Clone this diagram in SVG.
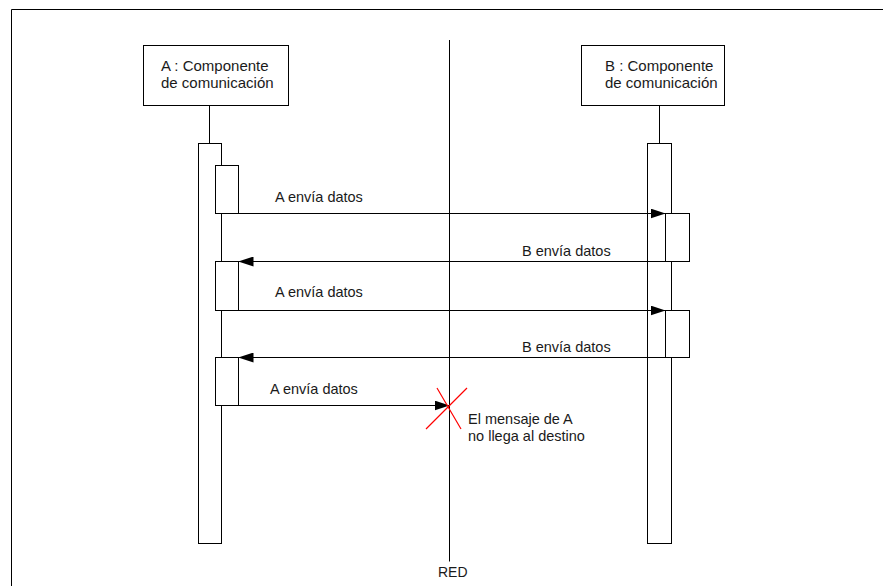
<svg xmlns="http://www.w3.org/2000/svg" width="883" height="586" viewBox="0 0 883 586">
  <defs>
    <marker id="arrow" markerUnits="userSpaceOnUse" markerWidth="15" markerHeight="10" refX="15" refY="5" orient="auto">
      <path d="M0,0 L15,5 L0,10 Z" fill="#000"/>
    </marker>
    <style>
      .box { fill: #fff; stroke: #000; stroke-width: 1; }
      .line { fill: none; stroke: #000; stroke-width: 1; }
      .msg { fill: none; stroke: #000; stroke-width: 1; marker-end: url(#arrow); }
      .cross { fill: none; stroke: #ff0000; stroke-width: 1.2; }
      text { font-family: "Liberation Sans", Arial, sans-serif; font-size: 14.5px; fill: #1a1a1a; }
      .title { font-size: 15px; }
    </style>
  </defs>

  <rect x="0" y="0" width="883" height="586" fill="#fff"/>

  <!-- frame -->
  <path class="line" d="M11.5,586 V9.5 H883"/>

  <!-- network line -->
  <g id="red">
    <path class="line" d="M449.5,40 V561.5"/>
    <text x="438" y="577" style="font-size:14px">RED</text>
  </g>

  <!-- component A -->
  <g id="componente-a">
    <rect class="box" x="143.5" y="45.5" width="145" height="60"/>
    <text class="title" x="161" y="71">A : Componente</text>
    <text class="title" x="161" y="88">de comunicación</text>
    <path class="line" d="M209.5,105.5 V143.5"/>
    <rect class="box" x="198.5" y="143.5" width="23" height="400"/>
    <rect class="box" x="215.5" y="165.5" width="23" height="48"/>
    <rect class="box" x="215.5" y="261.5" width="23" height="49"/>
    <rect class="box" x="215.5" y="357.5" width="23" height="48"/>
  </g>

  <!-- component B -->
  <g id="componente-b">
    <rect class="box" x="581.5" y="45.5" width="143" height="60"/>
    <text class="title" x="605" y="71">B : Componente</text>
    <text class="title" x="605" y="88">de comunicación</text>
    <path class="line" d="M659.5,105.5 V143.5"/>
    <rect class="box" x="647.5" y="143.5" width="24" height="400"/>
    <rect class="box" x="665.5" y="213.5" width="24" height="48"/>
    <rect class="box" x="665.5" y="310.5" width="24" height="47"/>
  </g>

  <!-- messages -->
  <g id="mensajes">
    <path class="msg" d="M238.5,213.5 H665.5"/>
    <text x="275" y="202">A envía datos</text>

    <path class="msg" d="M689.5,261.5 H238.5"/>
    <text x="522" y="256">B envía datos</text>

    <path class="msg" d="M238.5,310.5 H665.5"/>
    <text x="275" y="297">A envía datos</text>

    <path class="msg" d="M689.5,357.5 H238.5"/>
    <text x="522" y="352">B envía datos</text>

    <path class="msg" d="M238.5,405.5 H449.5"/>
    <text x="270" y="394">A envía datos</text>
  </g>

  <!-- lost message -->
  <g id="mensaje-perdido">
    <path class="cross" d="M426,429 L467,388 M437,388 L461,429"/>
    <text x="468" y="424">El mensaje de A</text>
    <text x="468" y="441">no llega al destino</text>
  </g>
</svg>
